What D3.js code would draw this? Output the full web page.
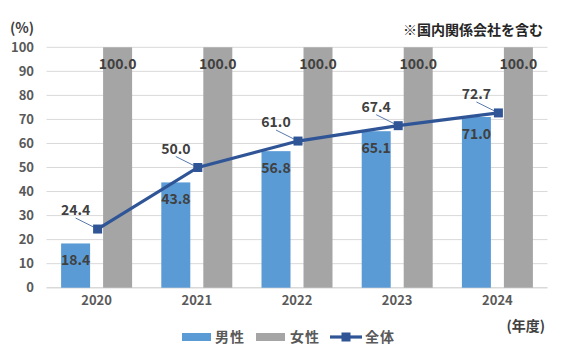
<!DOCTYPE html>
<html><head><meta charset="utf-8">
<script src="https://cdn.jsdelivr.net/npm/d3@7"></script>
<style>
body{margin:0;background:#fff;}
text{font-family:"Noto Sans CJK JP","Noto Sans",sans-serif;}
</style></head>
<body><svg id="c" width="588" height="355"></svg>
<script>
const years = ["2020","2021","2022","2023","2024"];
const male = [18.4, 43.8, 56.8, 65.1, 71.0];
const female = [100.0, 100.0, 100.0, 100.0, 100.0];
const total = [24.4, 50.0, 61.0, 67.4, 72.7];
const yTicks = [0,10,20,30,40,50,60,70,80,90,100];
const seriesNames = ["男性","女性","全体"];
const colors = {male:"#5B9BD5", female:"#A5A5A5", total:"#2F5597"};

const svg = d3.select("#c");
const m = {left:46.5, right:547.5, top:47.3, bottom:287.7};
const x = d3.scaleBand().domain(years).range([m.left, m.right]);
const y = d3.scaleLinear().domain([0,100]).range([m.bottom, m.top]);
const barW = 29, gap = 13;

// gridlines
svg.append("g").selectAll("line").data(yTicks).join("line")
  .attr("x1", m.left).attr("x2", m.right)
  .attr("y1", d=>y(d)).attr("y2", d=>y(d))
  .attr("stroke", "#D9D9D9").attr("stroke-width", d=>d===0?1.5:1);

// y axis labels
const yAxis = d3.axisLeft(y).tickValues(yTicks).tickSize(0).tickPadding(0);
const ga = svg.append("g").attr("transform", `translate(34,0)`).call(yAxis);
ga.select(".domain").remove();
ga.selectAll("text").attr("fill","#595959").attr("font-size","13px").attr("font-weight","bold")
  .attr("font-family",'"Noto Sans CJK JP",sans-serif');

// x axis labels
const xAxis = d3.axisBottom(x).tickSize(0).tickPadding(0);
const gx = svg.append("g").attr("transform", `translate(0,301)`).call(xAxis);
gx.select(".domain").remove();
gx.selectAll("text").attr("fill","#595959").attr("font-size","13px").attr("font-weight","bold")
  .attr("font-family",'"Noto Sans CJK JP",sans-serif').attr("dy","0.32em");

const cx = d => x(d) + x.bandwidth()/2;

// bars
svg.append("g").selectAll("rect").data(years).join("rect")
  .attr("x", (d)=>cx(d) - gap/2 - barW).attr("width", barW)
  .attr("y", (d,i)=>y(male[i])).attr("height", (d,i)=>y(0)-y(male[i]))
  .attr("fill", colors.male);
svg.append("g").selectAll("rect").data(years).join("rect")
  .attr("x", (d)=>cx(d) + gap/2).attr("width", barW)
  .attr("y", (d,i)=>y(female[i])).attr("height", (d,i)=>y(0)-y(female[i]))
  .attr("fill", colors.female);

// bar labels
const lblStyle = s => s.attr("fill","#404040").attr("font-size","14px").attr("font-weight","bold").attr("text-anchor","middle");
svg.append("g").selectAll("text").data(years).join("text")
  .attr("x", d=>cx(d) - gap/2 - barW/2).attr("y", (d,i)=>y(male[i]) + 21.5)
  .text((d,i)=>male[i].toFixed(1)).call(lblStyle);
svg.append("g").selectAll("text").data(years).join("text")
  .attr("x", d=>cx(d) + gap/2 + barW/2).attr("y", (d,i)=>y(female[i]) + 21.5)
  .text((d,i)=>female[i].toFixed(1)).call(lblStyle);

// line
const line = d3.line().x((d,i)=>cx(years[i]) + 1).y(d=>y(d));
svg.append("path").datum(total).attr("d", line)
  .attr("fill","none").attr("stroke", colors.total).attr("stroke-width", 3.2);
svg.append("g").selectAll("rect").data(total).join("rect")
  .attr("x", (d,i)=>cx(years[i]) + 1 - 4.5).attr("y", d=>y(d)-4.5)
  .attr("width", 9).attr("height", 9).attr("fill", colors.total);

// line labels with leaders
const dxL = -22, dyL = -19;
svg.append("g").selectAll("line").data(total).join("line")
  .attr("x1", (d,i)=>cx(years[i]) + 1 + dxL).attr("y1", d=>y(d) + dyL + 8)
  .attr("x2", (d,i)=>cx(years[i]) + 1 - 4).attr("y2", d=>y(d) - 2)
  .attr("stroke", colors.total).attr("stroke-width", 0.8);
svg.append("g").selectAll("text").data(total).join("text")
  .attr("x", (d,i)=>cx(years[i]) + 1 + dxL).attr("y", d=>y(d) + dyL + 5)
  .text(d=>d.toFixed(1)).call(lblStyle);

// annotations
svg.append("text").attr("x", 10).attr("y", 33).text("(%)")
  .attr("fill","#404040").attr("font-size","14px").attr("font-weight","bold");
svg.append("text").attr("x", 543).attr("y", 35).attr("text-anchor","end").text("※国内関係会社を含む")
  .attr("fill","#262626").attr("font-size","14px").attr("font-weight","bold");
svg.append("text").attr("x", 545).attr("y", 331).attr("text-anchor","end").text("(年度)")
  .attr("fill","#404040").attr("font-size","14px").attr("font-weight","bold");

// legend
const lg = svg.append("g");
const ly = 337;
lg.append("rect").attr("x",182).attr("y",ly-4).attr("width",29).attr("height",8).attr("fill",colors.male);
lg.append("text").attr("x",215).attr("y",ly+5).text(seriesNames[0]);
lg.append("rect").attr("x",256).attr("y",ly-4).attr("width",29).attr("height",8).attr("fill",colors.female);
lg.append("text").attr("x",290).attr("y",ly+5).text(seriesNames[1]);
lg.append("line").attr("x1",330).attr("x2",362).attr("y1",ly).attr("y2",ly).attr("stroke",colors.total).attr("stroke-width",3.2);
lg.append("rect").attr("x",346-4.5).attr("y",ly-4.5).attr("width",9).attr("height",9).attr("fill",colors.total);
lg.append("text").attr("x",365).attr("y",ly+5).text(seriesNames[2]);
lg.selectAll("text").attr("fill","#595959").attr("font-size","14px").attr("font-weight","bold").attr("letter-spacing","1px");
</script></body></html>
